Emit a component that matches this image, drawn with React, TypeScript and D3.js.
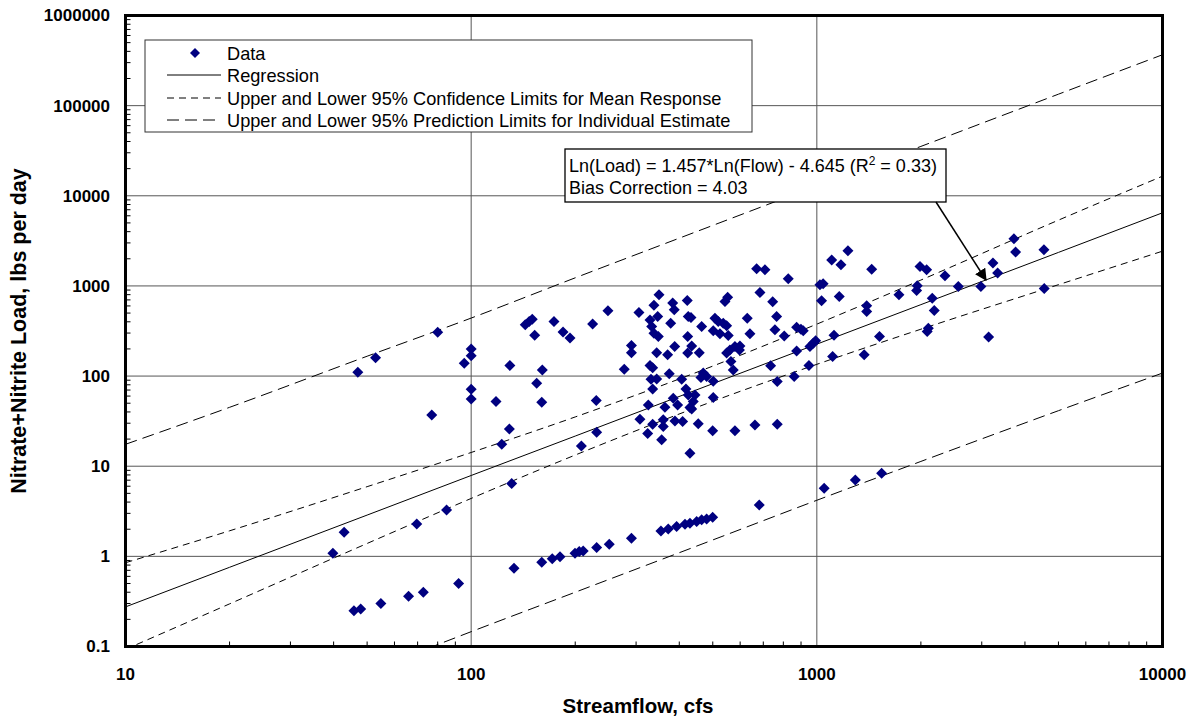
import * as d3 from "d3"

// streamflow (cfs) and load (lbs/day)
const flows = [
  39.8, 42.9, 45.8, 47.9, 47, 52.9, 54.8, 65.9, 72.7, 69.6, 76.9, 80, 84.9, 92, 95.5, 100, 100, 100, 100,
  118, 122.6, 129, 129.4, 131, 133, 143.4, 147.2, 150.2, 152.7, 160.6, 154.7, 160, 160, 171.6, 180.7,
  173.6, 184.4, 193.2, 199.7, 205.4, 210.9, 208.4, 224.6, 230.1, 230.7, 230.7, 250.9, 248.7, 277.3,
  290.9, 305.8, 290.9, 290.9, 349.4, 337.9, 382.8, 386.9, 421.9, 329.1, 346.4, 332.8, 377.7, 337.9,
  347.8, 424.6, 432.4, 423, 464.3, 387.9, 344.1, 370.2, 434.4, 423, 456.9, 329.1, 335, 331.3, 344.1,
  335, 374.2, 406.4, 325.4, 307.8, 335, 324.1, 355.7, 363.6, 384.3, 395.7, 359.5, 359.5, 388.6, 409.1,
  418.2, 424.6, 444.1, 439.1, 429.5, 434.4, 453.9, 429.5, 499.6, 501.6, 469.3, 480, 462.1, 501.6,
  542.3, 552.1, 507.3, 518.6, 536.1, 548.4, 501.6, 524.5, 554.3, 548.4, 560.6, 579.6, 599.2, 597.2,
  564.3, 573, 579.6, 629, 640.4, 662.1, 669.7, 707.8, 684.6, 745.1, 765.1, 756.5, 804.8, 735.2, 768.2,
  768.2, 826.5, 874.1, 899.5, 913.4, 874.1, 860.1, 948.9, 955.3, 976.4, 992.1, 1021, 1043, 1032, 1104,
  1174, 1230, 1161, 1121, 1111, 1371, 1441, 1394, 1394, 1518, 1728, 1952, 1944, 1988, 2078, 2157, 2186,
  2101, 2086, 2348, 2566, 2983, 3141, 3232, 3334, 3717, 3759, 4539, 4548,
  354, 371.7, 393, 415.5, 429.5, 449.1, 464.3, 480, 499.6, 681.4, 1050, 1292, 1540,
]
const loads = [
  1.08, 1.85, 0.25, 0.26, 110, 160, 0.3, 0.36, 0.4, 2.29, 37.1, 307, 3.27, 0.5, 139, 200, 168, 71.6, 55.8,
  52.1, 17.5, 25.9, 131, 6.41, 0.74, 370, 403, 428, 284, 117, 83.4, 51.3, 0.86, 0.94, 0.99,
  403, 309, 265, 1.08, 1.13, 1.15, 16.8, 377, 53.5, 23.8, 1.25, 1.36, 529, 119,
  1.59, 507, 218, 182, 796, 612, 645, 543, 689, 420, 458, 354, 386, 299,
  274, 458, 446, 274, 354, 213, 182, 172, 216, 180, 182, 131, 124, 92, 93,
  72.1, 106, 92.4, 47.9, 33.2, 29.2, 23, 19.6, 45.2, 56.9, 47.9, 32.7, 27.5, 31.8, 31.3,
  72.1, 61.8, 61.8, 52.1, 44.7, 43.2, 29.5, 13.9, 24.7, 57.7, 108, 98.7, 96.2, 87.8,
  671, 751, 439, 403, 386, 361, 318, 294, 281, 180, 195, 213, 216, 195,
  145, 117, 24.8, 439, 294, 28.7, 1548, 1509, 845, 666, 458, 326, 279, 130, 87,
  29.2, 1199, 349, 331, 318, 190, 98.7, 131, 213, 232, 246, 1028, 1055, 683, 1934,
  1715, 2453, 763, 284, 165, 172, 1536, 601, 520, 274, 796, 1003, 889, 1642, 1509, 732, 533,
  340, 312, 1295, 985, 985, 272, 1791, 1387, 3332, 2372, 2516, 936,
  1.91, 2.01, 2.14, 2.27, 2.33, 2.43, 2.54, 2.6, 2.72, 3.72, 5.7, 7.05, 8.36,
]

const lineFlows = [10, 20, 50, 100, 200, 500, 1000, 2000, 5000, 10000]
const regression = [0.275, 0.756, 2.87, 7.89, 21.6, 82.3, 226, 620, 2354, 6474]
const upperCL = [0.85, 1.92, 5.93, 14.2, 35.2, 129, 377, 1162, 5367, 16500]
const lowerCL = [0.093, 0.297, 1.39, 4.39, 13.3, 52.4, 135, 331, 1032, 2430]
const upperPL = [17.5, 45, 166, 440, 1230, 4690, 12900, 35300, 134000, 367000]
const lowerPL = [0.0046, 0.013, 0.052, 0.146, 0.4, 1.52, 4.19, 11.3, 41.3, 108]

const xTicks = [10, 100, 1000, 10000]
const xTickLabels = ["10", "100", "1000", "10000"]
const yTicks = [0.1, 1, 10, 100, 1000, 10000, 100000, 1000000]
const yTickLabels = ["0.1", "1", "10", "100", "1000", "10000", "100000", "1000000"]

const legendLabels = [
  "Data",
  "Regression",
  "Upper and Lower 95% Confidence Limits for Mean Response",
  "Upper and Lower 95% Prediction Limits for Individual Estimate",
]

const W = 1195
const H = 719
const left = 125.5
const right = 1162.5
const top = 15.5
const bottom = 646.5
const FONT = "'Liberation Sans', Arial, sans-serif"
const NAVY = "#000080"
const CL_DASH = "7,5"
const PL_DASH = "12,6"

export default function App() {
  const x = d3.scaleLog().domain([10, 10000]).range([left, right])
  const y = d3.scaleLog().domain([0.1, 1000000]).range([bottom, top])

  const line = d3
    .line<number>()
    .x((_, i) => x(lineFlows[i]))
    .y((d) => y(d))
    .curve(d3.curveMonotoneX)

  const minorX: number[] = []
  for (let dec = 10; dec < 10000; dec *= 10) for (let k = 2; k <= 9; k++) minorX.push(dec * k)
  const minorY: number[] = []
  for (let dec = 0.1; dec < 999999; dec *= 10) for (let k = 2; k <= 9; k++) minorY.push(dec * k)

  const diamond = (cx: number, cy: number, r = 5.5) =>
    `M${cx},${cy - r}L${cx + r},${cy}L${cx},${cy + r}L${cx - r},${cy}Z`

  const legX = 145
  const legY = 40
  const legRowY = [53, 75, 98, 120]

  return (
    <svg
      width={W}
      height={H}
      style={{ position: "absolute", left: 0, top: 0, background: "#fff" }}
      fontFamily={FONT}
    >
      <defs>
        <clipPath id="plot">
          <rect x={left} y={top} width={right - left} height={bottom - top} />
        </clipPath>
        <marker id="arrow" viewBox="0 0 10 10" refX="9" refY="5" markerWidth="12" markerHeight="12" markerUnits="userSpaceOnUse" orient="auto">
          <path d="M0,0L10,5L0,10Z" fill="#000" />
        </marker>
      </defs>

      {/* grid */}
      {xTicks.slice(1, -1).map((t) => (
        <line key={"gx" + t} x1={x(t)} x2={x(t)} y1={top} y2={bottom} stroke="#555" strokeWidth={1} />
      ))}
      {yTicks.slice(1, -1).map((t) => (
        <line key={"gy" + t} x1={left} x2={right} y1={y(t)} y2={y(t)} stroke="#555" strokeWidth={1} />
      ))}

      {/* minor ticks */}
      {minorX.map((t) => (
        <line key={"mx" + t} x1={x(t)} x2={x(t)} y1={bottom} y2={bottom - 5} stroke="#000" />
      ))}
      {minorY.map((t) => (
        <line key={"my" + t} x1={left} x2={left + 5} y1={y(t)} y2={y(t)} stroke="#000" />
      ))}

      <g clipPath="url(#plot)" fill="none" stroke="#000" strokeWidth={1}>
        <path d={line(upperPL) ?? ""} strokeDasharray={PL_DASH} />
        <path d={line(lowerPL) ?? ""} strokeDasharray={PL_DASH} />
        <path d={line(upperCL) ?? ""} strokeDasharray={CL_DASH} />
        <path d={line(lowerCL) ?? ""} strokeDasharray={CL_DASH} />
        <path d={line(regression) ?? ""} />
      </g>

      {/* data */}
      <g fill={NAVY}>
        {flows.map((f, i) => (
          <path key={"p" + i} d={diamond(x(f), y(loads[i]))} />
        ))}
      </g>

      {/* plot frame */}
      <rect x={left} y={top} width={right - left} height={bottom - top} fill="none" stroke="#000" strokeWidth={3} />

      {/* axis labels */}
      {yTicks.map((t, i) => (
        <text key={"yl" + t} x={110} y={y(t)} dy="0.35em" textAnchor="end" fontSize={17} fontWeight="bold">
          {yTickLabels[i]}
        </text>
      ))}
      {xTicks.map((t, i) => (
        <text key={"xl" + t} x={x(t)} y={680} textAnchor="middle" fontSize={17} fontWeight="bold">
          {xTickLabels[i]}
        </text>
      ))}
      <text x={638} y={713} textAnchor="middle" fontSize={20.5} fontWeight="bold">
        Streamflow, cfs
      </text>
      <text transform={`translate(26,${(top + bottom) / 2}) rotate(-90)`} textAnchor="middle" fontSize={21.5} fontWeight="bold">
        Nitrate+Nitrite Load, lbs per day
      </text>

      {/* legend */}
      <rect x={legX} y={legY} width={607} height={92} fill="#fff" stroke="#333" strokeWidth={1} />
      <path d={diamond(195, legRowY[0], 5)} fill={NAVY} />
      <line x1={167} x2={221} y1={legRowY[1]} y2={legRowY[1]} stroke="#000" />
      <line x1={167} x2={221} y1={legRowY[2]} y2={legRowY[2]} stroke="#000" strokeDasharray={CL_DASH} />
      <line x1={167} x2={221} y1={legRowY[3]} y2={legRowY[3]} stroke="#000" strokeDasharray={PL_DASH} />
      {legendLabels.map((l, i) => (
        <text key={l} x={227} y={legRowY[i]} dy="0.36em" fontSize={18.2}>
          {l}
        </text>
      ))}

      {/* equation box */}
      <rect x={565} y={149} width={381} height={53} fill="#fff" stroke="#000" strokeWidth={1.3} />
      <text x={569} y={172} fontSize={18}>
        Ln(Load) = 1.457*Ln(Flow) - 4.645 (R
        <tspan dy={-7} fontSize={12}>2</tspan>
        <tspan dy={7}> = 0.33)</tspan>
      </text>
      <text x={569} y={194} fontSize={18}>
        Bias Correction = 4.03
      </text>
      <line x1={936} y1={202} x2={986} y2={280} stroke="#000" strokeWidth={1.5} markerEnd="url(#arrow)" />
    </svg>
  )
}
